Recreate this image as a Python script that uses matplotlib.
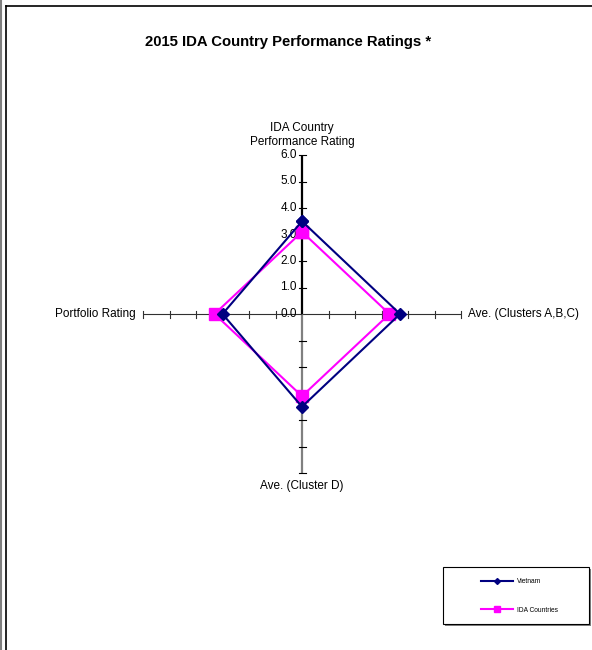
import numpy as np
import matplotlib
matplotlib.use('Agg')
import matplotlib.pyplot as plt
from matplotlib.lines import Line2D
from matplotlib.patches import Rectangle

plt.rcParams['font.family'] = ['Liberation Sans', 'DejaVu Sans']

# data, clockwise from the top
categories = ['IDA Country\nPerformance Rating', 'Ave. (Clusters A,B,C)',
              'Ave. (Cluster D)', 'Portfolio Rating']
vietnam = [3.5, 3.7, 3.5, 3.0]
ida_countries = [3.1, 3.3, 3.1, 3.3]
ticks = [0, 1, 2, 3, 4, 5, 6]
tick_labels = ['0.0', '1.0', '2.0', '3.0', '4.0', '5.0', '6.0']
title = '2015 IDA Country Performance Ratings *'

W, H = 592, 650
PX = 26.5          # pixels per rating unit
CX, CY = 302, 314  # centre in pixels (from top-left)
FS = 8.5

fig = plt.figure(figsize=(W / 100, H / 100), dpi=100)
ax = fig.add_axes([0, 0, 1, 1])
ax.set_xlim(-CX / PX, (W - CX) / PX)
ax.set_ylim(-(H - CY) / PX, CY / PX)
ax.axis('off')

angles = np.arange(len(categories)) * 2 * np.pi / len(categories)
rmax = ticks[-1]
tl = 3.5 / PX

# spokes
for i, a in enumerate(angles):
    dx, dy = np.sin(a), np.cos(a)
    if i == 0:
        col, lw = 'black', 1.6
    elif i == 2:
        col, lw = '#808080', 1.6
    else:
        col, lw = '#303030', 0.8
    ax.plot([0, rmax * dx], [0, rmax * dy], color=col, lw=lw, zorder=1,
            solid_capstyle='butt')
    for t in ticks[1:]:
        px, py = t * dx, t * dy
        ax.plot([px - tl * dy, px + tl * dy], [py - tl * dx, py + tl * dx],
                color='black' if i != 1 and i != 3 else col, lw=0.8,
                zorder=1)

# tick labels on the first spoke
for t, lab in zip(ticks, tick_labels):
    ax.text(-5 / PX, t, lab, ha='right', va='center', fontsize=FS,
            color='black', zorder=2)

# category labels
pad = 7 / PX
ax.text(0, rmax + pad, categories[0], ha='center', va='bottom',
        multialignment='center', fontsize=FS, linespacing=1.25)
ax.text(rmax + pad, 0, categories[1], ha='left', va='center', fontsize=FS)
ax.text(0, -rmax - pad, categories[2], ha='center', va='top', fontsize=FS)
ax.text(-rmax - pad, 0, categories[3], ha='right', va='center', fontsize=FS)


def closed_xy(vals):
    v = np.array(vals + vals[:1])
    a = np.append(angles, angles[0])
    return v * np.sin(a), v * np.cos(a)


x, y = closed_xy(vietnam)
ax.plot(x, y, color='#000080', lw=1.5, marker='D', ms=6, zorder=4,
        label='Vietnam')
x, y = closed_xy(ida_countries)
ax.plot(x, y, color='#FF00FF', lw=1.5, marker='s', ms=8, zorder=3,
        label='IDA Countries')

# title
fig.text(288 / W, 1 - 42 / H, title, ha='center', va='center',
         fontsize=10.7, fontweight='bold')

# chart frame
fig.add_artist(Line2D([1.2 / W, 1.2 / W], [0, 1], color='#808080', lw=1.5))
fig.add_artist(Line2D([5.5 / W, 5.5 / W], [0, 1 - 5.5 / H], color='black',
                      lw=1.2))
fig.add_artist(Line2D([5.5 / W, 1], [1 - 5.5 / H, 1 - 5.5 / H],
                      color='black', lw=1.2))

# legend box with shadow
lx0, ly0, lw_, lh_ = 443, 567, 146, 57
ax.add_patch(Rectangle(((lx0 + 2) / W, 1 - (ly0 + lh_ + 2) / H), lw_ / W,
                       lh_ / H, transform=fig.transFigure,
                       facecolor='#808080', edgecolor='none', zorder=6))
ax.add_patch(Rectangle((lx0 / W, 1 - (ly0 + lh_) / H), lw_ / W, lh_ / H,
                       transform=fig.transFigure, facecolor='white',
                       edgecolor='black', lw=0.8, zorder=7))
leg = ax.legend(loc='center left',
                bbox_to_anchor=(478 / W, 1 - (ly0 + lh_ / 2 + 0.5) / H),
                bbox_transform=fig.transFigure, frameon=False, fontsize=4.8,
                handlelength=4.8, handletextpad=0.5, labelspacing=3.2,
                borderpad=0, markerscale=0.5)
leg.set_zorder(10)

fig.savefig('out.png', dpi=100)
